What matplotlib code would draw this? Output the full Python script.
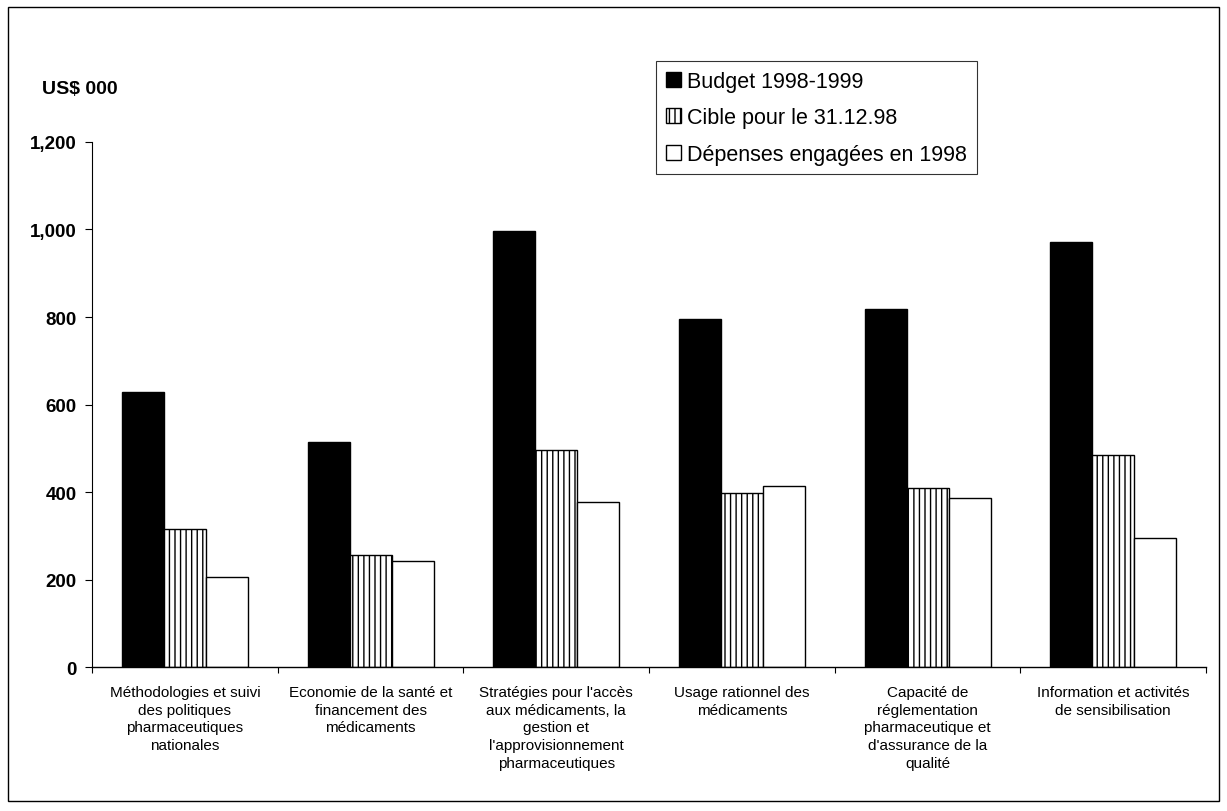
import matplotlib
matplotlib.use("Agg")
import matplotlib.pyplot as plt
import numpy as np
from matplotlib.patches import Rectangle

plt.rcParams['font.family'] = ['Liberation Sans', 'DejaVu Sans']
plt.rcParams['hatch.linewidth'] = 1.0

categories = [
    "Méthodologies et suivi\ndes politiques\npharmaceutiques\nnationales",
    "Economie de la santé et\nfinancement des\nmédicaments",
    "Stratégies pour l'accès\naux médicaments, la\ngestion et\nl'approvisionnement\npharmaceutiques",
    "Usage rationnel des\nmédicaments",
    "Capacité de\nréglementation\npharmaceutique et\nd'assurance de la\nqualité",
    "Information et activités\nde sensibilisation",
]
budget = [628, 514, 997, 796, 818, 971]
cible = [316, 256, 496, 398, 409, 485]
depenses = [205, 243, 377, 414, 386, 295]
series_labels = ["Budget 1998-1999", "Cible pour le 31.12.98", "Dépenses engagées en 1998"]
yticks = [0, 200, 400, 600, 800, 1000, 1200]

fig = plt.figure(figsize=(12.27, 8.12), dpi=100)
ax = fig.add_axes([0.075, 0.1773, 0.908, 0.6466])

x = np.arange(len(categories))
w = 0.226
ax.bar(x - w, budget, w, color='black', edgecolor='black', linewidth=1.0, label=series_labels[0])
ax.bar(x, cible, w, color='white', edgecolor='black', hatch='|||', linewidth=1.0, label=series_labels[1])
ax.bar(x + w, depenses, w, color='white', edgecolor='black', linewidth=1.0, label=series_labels[2])

ax.set_xlim(-0.5, len(categories) - 0.5)
ax.set_ylim(0, 1200)
ax.set_yticks(yticks)
ax.set_yticklabels([f"{v:,}" for v in yticks], fontsize=13.5, fontweight='bold')
ax.tick_params(axis='y', direction='out', length=5, width=0.8, pad=6)

ax.set_xticks(x)
ax.set_xticklabels(categories, fontsize=11, linespacing=1.33, va='top')
ax.tick_params(axis='x', which='major', length=0, pad=13)
ax.set_xticks(np.arange(-0.5, len(categories), 1.0), minor=True)
ax.tick_params(axis='x', which='minor', direction='out', length=4, width=0.8)

for s in ['top', 'right']:
    ax.spines[s].set_visible(False)
ax.spines['left'].set_linewidth(0.8)
ax.spines['bottom'].set_linewidth(1.0)

fig.text(42 / 1227, 1 - 89 / 812, "US$ 000", fontsize=14, fontweight='bold', va='center', ha='left')

leg = fig.legend(loc='upper left', bbox_to_anchor=(656 / 1227, 1 - 62 / 812),
                 fontsize=15.5, frameon=True, fancybox=False, edgecolor='black',
                 handlelength=0.7, handleheight=0.7, handletextpad=0.3,
                 borderpad=0.45, labelspacing=0.72, borderaxespad=0)
leg.get_frame().set_linewidth(0.8)

fig.patches.append(Rectangle((8 / 1227, 10 / 812), 1211 / 1227, 794 / 812,
                             transform=fig.transFigure, fill=False,
                             edgecolor='black', linewidth=1.0))

fig.savefig("out.png", dpi=100)
